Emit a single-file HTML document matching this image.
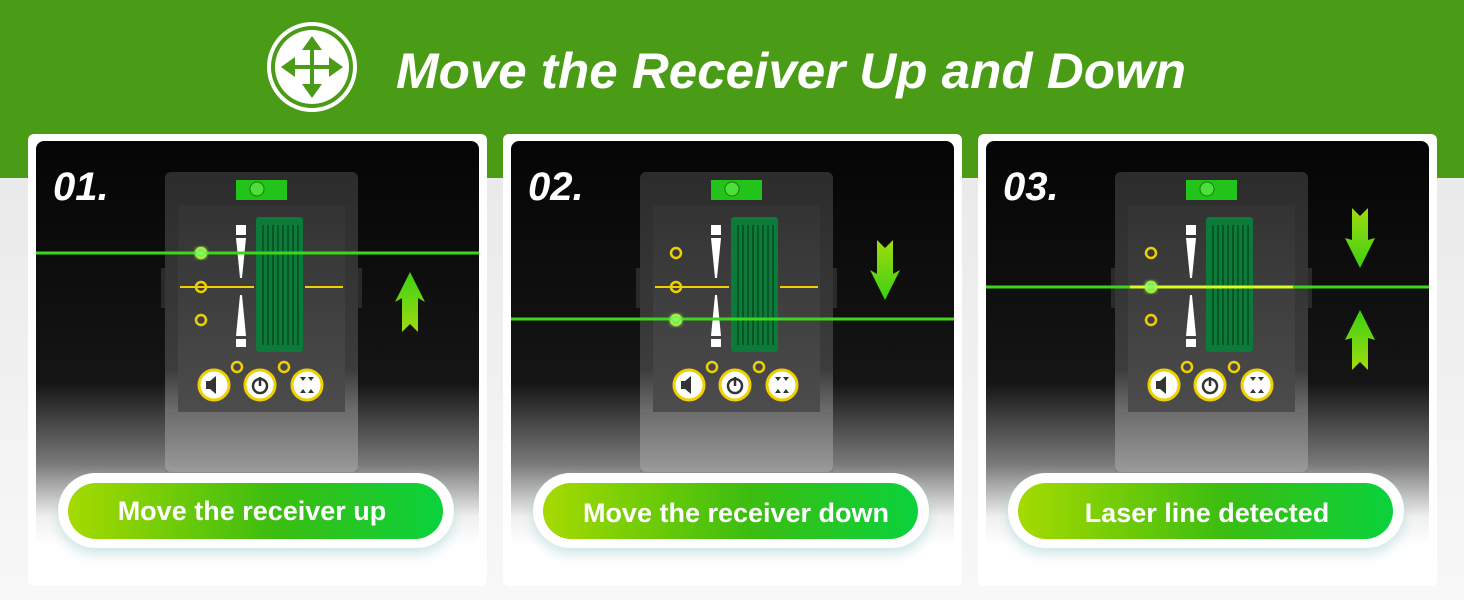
<!DOCTYPE html>
<html><head><meta charset="utf-8"><style>html,body{margin:0;padding:0;background:#fff}svg{display:block}</style></head><body>
<svg width="1464" height="600" viewBox="0 0 1464 600" xmlns="http://www.w3.org/2000/svg" font-family="Liberation Sans, sans-serif">
<defs>
<linearGradient id="bg" x1="0" y1="0" x2="0" y2="1"><stop offset="0" stop-color="#e4e4e4"/><stop offset="1" stop-color="#f8f8f8"/></linearGradient>
<linearGradient id="dark" x1="0" y1="141" x2="0" y2="545" gradientUnits="userSpaceOnUse"><stop offset="0" stop-color="#050505"/><stop offset="0.6" stop-color="#151515"/><stop offset="0.8" stop-color="#7a7a7a"/><stop offset="0.93" stop-color="#f0f0f0"/><stop offset="1" stop-color="#ffffff"/></linearGradient>
<linearGradient id="body" x1="0" y1="172" x2="0" y2="475" gradientUnits="userSpaceOnUse"><stop offset="0" stop-color="#2c2c2c"/><stop offset="0.65" stop-color="#3c3c3c"/><stop offset="1" stop-color="#b8b8b8"/></linearGradient>
<linearGradient id="scr" x1="0" y1="205" x2="0" y2="412" gradientUnits="userSpaceOnUse"><stop offset="0" stop-color="#333"/><stop offset="1" stop-color="#4c4c4c"/></linearGradient>
<linearGradient id="pill" x1="0" y1="0" x2="1" y2="0"><stop offset="0" stop-color="#a6da00"/><stop offset="0.55" stop-color="#3cbd10"/><stop offset="1" stop-color="#0ad23c"/></linearGradient>
<linearGradient id="arr" x1="0" y1="0" x2="0" y2="1"><stop offset="0" stop-color="#3cd012"/><stop offset="1" stop-color="#a0dc10"/></linearGradient>
<linearGradient id="arrd" x1="0" y1="0" x2="0" y2="1"><stop offset="0" stop-color="#a0dc10"/><stop offset="1" stop-color="#3cd012"/></linearGradient>
<filter id="sh" x="-10%" y="-30%" width="120%" height="170%"><feDropShadow dx="0" dy="6" stdDeviation="6" flood-color="#9cc" flood-opacity="0.5"/></filter>
<filter id="glow"><feGaussianBlur stdDeviation="2"/></filter>
<g id="dev">
  <rect x="161" y="268" width="8" height="40" fill="#2a2a2a"/>
  <rect x="354" y="268" width="8" height="40" fill="#2a2a2a"/>
  <rect x="165" y="172" width="193" height="300" rx="6" fill="url(#body)"/>
  <rect x="236" y="180" width="51" height="20" fill="#22c41a"/>
  <circle cx="257" cy="189" r="7" fill="#4ee03a" stroke="#1a7a10"/>
  <rect x="178" y="205" width="167" height="207" fill="url(#scr)"/>
  <rect x="256" y="217" width="47" height="135" rx="3" fill="#0c7a38"/>
  <g stroke="#064a20" stroke-width="1.5">
    <line x1="263" y1="225" x2="263" y2="345"/><line x1="268" y1="225" x2="268" y2="345"/><line x1="273" y1="225" x2="273" y2="345"/><line x1="278" y1="225" x2="278" y2="345"/><line x1="283" y1="225" x2="283" y2="345"/><line x1="288" y1="225" x2="288" y2="345"/><line x1="293" y1="225" x2="293" y2="345"/><line x1="298" y1="225" x2="298" y2="345"/>
  </g>
  <rect x="236" y="225" width="10" height="10" fill="#fff"/>
  <polygon points="236,238 246,238 242,278 240,278" fill="#fff"/>
  <polygon points="240,295 242,295 246,336 236,336" fill="#fff"/>
  <rect x="236" y="339" width="10" height="8" fill="#fff"/>
  <line x1="180" y1="287" x2="254" y2="287" stroke="#f0d000" stroke-width="2"/>
  <line x1="305" y1="287" x2="343" y2="287" stroke="#f0d000" stroke-width="2"/>
  <g fill="none" stroke="#f0d000" stroke-width="2.5"><circle cx="201" cy="253" r="5"/><circle cx="201" cy="287" r="5"/><circle cx="201" cy="320" r="5"/><circle cx="237" cy="367" r="5"/><circle cx="284" cy="367" r="5"/></g>
  <g fill="#fff" stroke="#f0d000" stroke-width="3"><circle cx="214" cy="385" r="15"/><circle cx="260" cy="385" r="15"/><circle cx="307" cy="385" r="15"/></g>
  <polygon points="206,381 210,381 216,376 216,394 210,389 206,389" fill="#333"/>
  <circle cx="260" cy="386" r="7" fill="none" stroke="#333" stroke-width="2.5"/><line x1="260" y1="377" x2="260" y2="386" stroke="#333" stroke-width="2.5"/>
  <g fill="#333"><polygon points="300,377 306,377 303,381"/><polygon points="308,377 314,377 311,381"/><polygon points="300,393 306,393 303,389"/><polygon points="308,393 314,393 311,389"/></g>
  <rect x="165" y="412" width="193" height="60" fill="#6a6a6a" opacity="0.35"/>
</g>
</defs>
<rect width="1464" height="600" fill="url(#bg)"/>
<rect width="1464" height="178" fill="#4a9b16"/>
<circle cx="312" cy="67" r="43" fill="none" stroke="#fff" stroke-width="4"/>
<circle cx="312" cy="67" r="37" fill="#fff"/>
<g fill="#4a9b16">
  <rect x="310" y="47" width="4" height="40"/><rect x="292" y="65" width="40" height="4"/>
  <polygon points="312,36 302,50 322,50"/><polygon points="312,98 302,84 322,84"/>
  <polygon points="281,67 295,57 295,77"/><polygon points="343,67 329,57 329,77"/>
</g>
<text x="396" y="88" font-size="50" font-weight="bold" font-style="italic" fill="#fff" textLength="790" lengthAdjust="spacingAndGlyphs">Move the Receiver Up and Down</text>

<g id="p1">
<rect x="28" y="134" width="459" height="452" rx="6" fill="#fff"/>
<rect x="36" y="141" width="443" height="404" rx="8" fill="url(#dark)"/>
<use href="#dev"/>
<text x="53" y="200" font-size="40" font-weight="bold" font-style="italic" fill="#fff">01.</text>
</g>
<line x1="36" y1="253" x2="479" y2="253" stroke="#3ad81a" stroke-width="3"/>
<circle cx="201" cy="253" r="6" fill="#7fff60" filter="url(#glow)"/>
<polygon points="410,272 425,302 418,298 418,332 410,324 402,332 402,298 395,302" fill="url(#arr)"/>

<g transform="translate(475,0)">
<rect x="28" y="134" width="459" height="452" rx="6" fill="#fff"/>
<rect x="36" y="141" width="443" height="404" rx="8" fill="url(#dark)"/>
<use href="#dev"/>
<text x="53" y="200" font-size="40" font-weight="bold" font-style="italic" fill="#fff">02.</text>
<line x1="36" y1="319" x2="479" y2="319" stroke="#3ad81a" stroke-width="3"/>
<circle cx="201" cy="320" r="6" fill="#7fff60" filter="url(#glow)"/>
<polygon points="410,300 425,270 418,274 418,240 410,248 402,240 402,274 395,270" fill="url(#arrd)"/>
</g>

<g transform="translate(950,0)">
<rect x="28" y="134" width="459" height="452" rx="6" fill="#fff"/>
<rect x="36" y="141" width="443" height="404" rx="8" fill="url(#dark)"/>
<use href="#dev"/>
<text x="53" y="200" font-size="40" font-weight="bold" font-style="italic" fill="#fff">03.</text>
<line x1="36" y1="287" x2="479" y2="287" stroke="#3ad81a" stroke-width="3"/>
<line x1="180" y1="287" x2="343" y2="287" stroke="#d8ff20" stroke-width="3"/>
<circle cx="201" cy="287" r="6" fill="#7fff60" filter="url(#glow)"/>
<polygon points="410,268 425,238 418,240 418,208 410,216 402,208 402,240 395,238" fill="url(#arrd)"/>
<polygon points="410,310 425,340 418,338 418,370 410,362 402,370 402,338 395,340" fill="url(#arr)"/>
</g>

<g filter="url(#sh)">
<rect x="58" y="473" width="396" height="75" rx="37.5" fill="#fff"/>
<rect x="533" y="473" width="396" height="75" rx="37.5" fill="#fff"/>
<rect x="1008" y="473" width="396" height="75" rx="37.5" fill="#fff"/>
</g>
<rect x="68" y="483" width="375" height="56" rx="28" fill="url(#pill)"/>
<rect x="543" y="483" width="375" height="56" rx="28" fill="url(#pill)"/>
<rect x="1018" y="483" width="375" height="56" rx="28" fill="url(#pill)"/>
<g font-size="27" font-weight="bold" fill="#fff" text-anchor="middle">
<text x="252" y="520">Move the receiver up</text>
<text x="736" y="522">Move the receiver down</text>
<text x="1207" y="522">Laser line detected</text>
</g>
</svg>
</body></html>
